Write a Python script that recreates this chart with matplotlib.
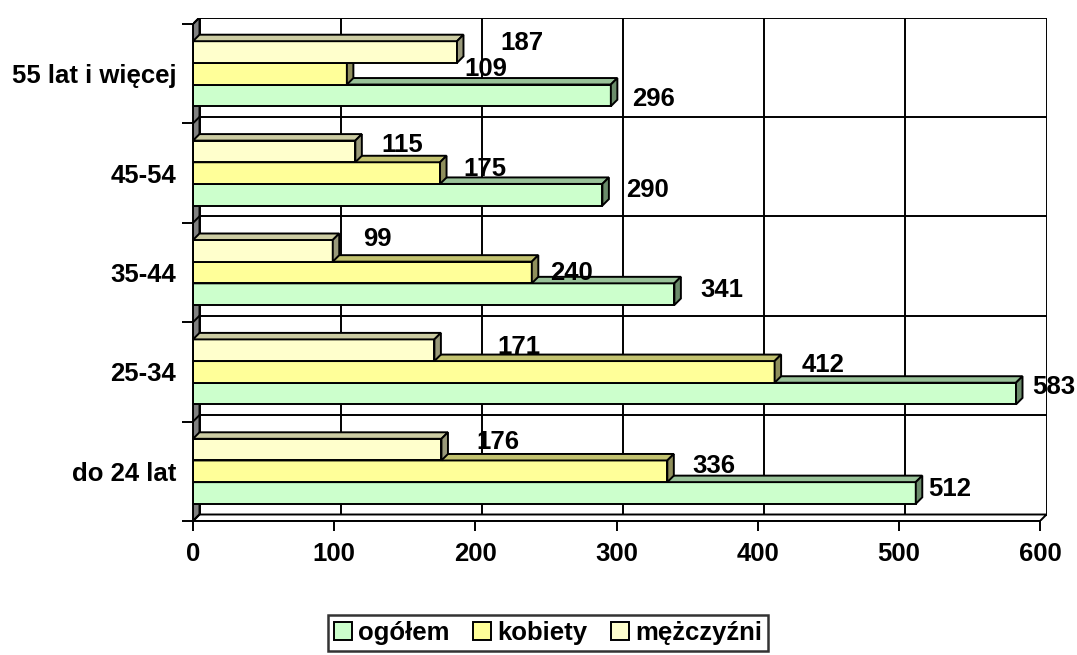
import matplotlib
matplotlib.use("Agg")
import matplotlib.pyplot as plt
from matplotlib.patches import Polygon, Patch

# dane
kategorie = ["do 24 lat", "25-34", "35-44", "45-54", "55 lat i więcej"]
ogolem = [512, 583, 341, 290, 296]
kobiety = [336, 412, 240, 175, 109]
mezczyzni = [176, 171, 99, 115, 187]
serie = ["ogółem", "kobiety", "mężczyźni"]

# kolory: przód, góra, bok
kolory = [("#CCFFCC", "#99C299", "#6B8C6B"),
          ("#FFFF99", "#C2C270", "#8F8F5C"),
          ("#FFFFCC", "#CCCCA3", "#99997A")]

# przesunięcia etykiet (piksele: w prawo, w górę)
off_ogolem = [(12, 4), (16, 7), (26, 4), (24, 5), (21, -4)]
off_kobiety = [(25, 5), (27, 7), (18, 0), (23, 4), (118, 5)]
off_mezczyzni = [(35, 8), (63, 3), (30, 12), (26, 6), (43, 9)]

plt.rcParams['font.family'] = ['Liberation Sans', 'DejaVu Sans']
plt.rcParams['font.weight'] = 'bold'
FS = 18.5

W, H = 1077, 655
fig = plt.figure(figsize=(W / 100, H / 100), dpi=100)

dpx = 6.5  # glebokosc 3D w pikselach
front_w, front_h = 847, 497
ax = fig.add_axes([193 / W, (H - 521) / H, (front_w + dpx) / W, (front_h + dpx) / H])
xmax = 600 * (front_w + dpx) / front_w
ymin = -0.5
ymax = ymin + 5 * (front_h + dpx) / front_h
ax.set_xlim(0, xmax)
ax.set_ylim(ymin, ymax)
dx = 600 * dpx / front_w
dy = 5 * dpx / front_h

lw = 1.4
# tylna sciana: siatka
for v in range(0, 700, 100):
    ax.plot([v + dx, v + dx], [ymin + dy, 4.5 + dy], color="black", lw=lw, zorder=1)
for b in [-0.5, 0.5, 1.5, 2.5, 3.5, 4.5]:
    ax.plot([dx, 600 + dx], [b + dy, b + dy], color="black", lw=lw, zorder=1)
# lewa sciana
ax.add_patch(Polygon([(0, ymin), (dx, ymin + dy), (dx, 4.5 + dy), (0, 4.5)],
                     closed=True, facecolor="#808080", edgecolor="black", lw=lw, zorder=1.5))
for b in [-0.5, 0.5, 1.5, 2.5, 3.5, 4.5]:
    ax.plot([0, dx], [b, b + dy], color="black", lw=lw, zorder=1.6)
# podloga
ax.add_patch(Polygon([(0, ymin), (600, ymin), (600 + dx, ymin + dy), (dx, ymin + dy)],
                     closed=True, facecolor="white", edgecolor="black", lw=lw, zorder=1.5))

h = 0.218
dane = [ogolem, kobiety, mezczyzni]
offs = [off_ogolem, off_kobiety, off_mezczyzni]
for s, (wart, kol, off) in enumerate(zip(dane, kolory, offs)):
    pos = [i + (s - 1) * h for i in range(len(kategorie))]
    z = 2 + s
    ax.barh(pos, wart, height=h, color=kol[0], edgecolor="black", lw=lw, zorder=z)
    for y, v, (ox, oy) in zip(pos, wart, off):
        top = y + h / 2
        bot = y - h / 2
        ax.add_patch(Polygon([(0, top), (v, top), (v + dx, top + dy), (dx, top + dy)],
                             closed=True, facecolor=kol[1], edgecolor="black", lw=lw, zorder=z))
        ax.add_patch(Polygon([(v, bot), (v + dx, bot + dy), (v + dx, top + dy), (v, top)],
                             closed=True, facecolor=kol[2], edgecolor="black", lw=lw, zorder=z))
        ax.annotate(str(v), xy=(v, y), xytext=(ox * 0.72, oy * 0.72), textcoords="offset points",
                    ha="left", va="center", fontsize=FS, fontweight="bold", zorder=10)

for sp in ["top", "right"]:
    ax.spines[sp].set_visible(False)
ax.spines["left"].set_bounds(-0.5, 4.5)
ax.spines["bottom"].set_bounds(0, 600)
for sp in ["left", "bottom"]:
    ax.spines[sp].set_linewidth(lw)
    ax.spines[sp].set_zorder(6)

ax.set_xticks(range(0, 700, 100))
ax.set_xticklabels([str(v) for v in range(0, 700, 100)], fontsize=FS, fontweight="bold")
ax.set_yticks([-0.5, 0.5, 1.5, 2.5, 3.5, 4.5])
ax.set_yticklabels([])
ax.set_yticks(range(len(kategorie)), minor=True)
ax.set_yticklabels(kategorie, minor=True, fontsize=FS, fontweight="bold")
ax.tick_params(axis="y", which="major", length=8, width=lw)
ax.tick_params(axis="y", which="minor", length=0, pad=12)
ax.tick_params(axis="x", length=7, width=lw, pad=8)
ax.patch.set_visible(False)

uchwyty = [Patch(facecolor=k[0], edgecolor="black", lw=lw) for k in kolory]
leg = fig.legend(uchwyty, serie, loc="center", bbox_to_anchor=(548 / W, (H - 633) / H), ncol=3,
                 prop={"size": FS, "weight": "bold"}, frameon=True, fancybox=False,
                 handlelength=0.7, handleheight=0.7, handletextpad=0.25, columnspacing=0.9,
                 borderpad=0.25, borderaxespad=0)
leg.get_frame().set_edgecolor("black")
leg.get_frame().set_linewidth(1.8)

fig.savefig("out.png", dpi=100)
